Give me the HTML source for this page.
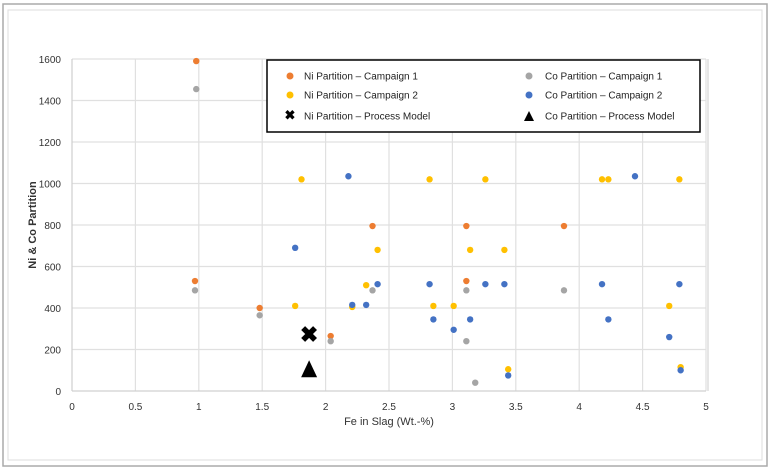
<!DOCTYPE html>
<html><head><meta charset="utf-8"><style>
body{margin:0;background:#fff;}
svg{display:block;font-family:"Liberation Sans",sans-serif;}
</style></head><body>
<svg id="c" width="772" height="472">
<rect x="3" y="4" width="764" height="462" fill="#fff" stroke="#aaa" stroke-width="1.5"/>
<rect x="8" y="10" width="754" height="450" fill="#fff" stroke="#ddd" stroke-width="1"/>
<g id="grid"></g><g id="ticks"></g><g id="marks"></g>
<text x="36" y="225" transform="rotate(-90 36 225)" text-anchor="middle" font-size="11" font-weight="bold" fill="#333">Ni &amp; Co Partition</text>
<text x="389" y="425" text-anchor="middle" font-size="11" fill="#333">Fe in Slag (Wt.-%)</text>
<g>
<rect x="267" y="60" width="433" height="72" fill="#fff" stroke="#000" stroke-width="1.5"/>
<circle cx="290" cy="76" r="3.5" fill="#ed7d31"/><text x="304" y="79.5" font-size="10" fill="#222">Ni Partition – Campaign 1</text>
<circle cx="290" cy="95" r="3.5" fill="#ffc000"/><text x="304" y="98.5" font-size="10" fill="#222">Ni Partition – Campaign 2</text>
<text x="290" y="119.5" font-size="13" font-weight="bold" text-anchor="middle" fill="#000">✖</text><text x="304" y="119.5" font-size="10" fill="#222">Ni Partition – Process Model</text>
<circle cx="529" cy="76" r="3.5" fill="#a5a5a5"/><text x="545" y="79.5" font-size="10" fill="#222">Co Partition – Campaign 1</text>
<circle cx="529" cy="95" r="3.5" fill="#4472c4"/><text x="545" y="98.5" font-size="10" fill="#222">Co Partition – Campaign 2</text>
<polygon points="524,121 529,111 534,121" fill="#000"/><text x="545" y="119.5" font-size="10" fill="#222">Co Partition – Process Model</text>
</g>
</svg>
<script>
const xTicks=[0,0.5,1,1.5,2,2.5,3,3.5,4,4.5,5];
const xTickLabels=["0","0.5","1","1.5","2","2.5","3","3.5","4","4.5","5"];
const yTicks=[0,200,400,600,800,1000,1200,1400,1600];
const niC1X=[0.98,0.97,1.48,2.04,2.37,3.11,3.11,3.88];
const niC1Y=[1590,530,400,265,795,795,530,795];
const coC1X=[0.98,0.97,1.48,2.04,2.37,3.11,3.11,3.18,3.88];
const coC1Y=[1455,485,365,240,485,485,240,40,485];
const niC2X=[1.81,2.82,3.26,4.18,4.23,4.79,2.41,3.14,3.41,2.32,1.76,2.85,3.01,4.71,3.44,4.80,2.21];
const niC2Y=[1020,1020,1020,1020,1020,1020,680,680,680,510,410,410,410,410,105,115,405];
const coC2X=[2.18,4.44,1.76,2.41,2.82,3.26,3.41,4.18,4.79,2.21,2.32,2.85,3.14,4.23,3.01,4.71,3.44,4.80];
const coC2Y=[1035,1035,690,515,515,515,515,515,515,415,415,345,345,345,295,260,75,100];
const niModelX=[1.87], niModelY=[275];
const coModelX=[1.87], coModelY=[105];
const NS="http://www.w3.org/2000/svg";
const X=v=>72+v*(706-72)/5, Y=v=>391-v*(391-59)/1600;
function mk(t,a,p){const e=document.createElementNS(NS,t);for(const k in a)e.setAttribute(k,a[k]);p.appendChild(e);return e;}
const g=document.getElementById('grid'),tk=document.getElementById('ticks'),m=document.getElementById('marks');
xTicks.forEach((v,i)=>{
 const l=mk('line',{x1:X(v),x2:X(v),y1:Y(0),y2:Y(1600),stroke:'#e0e0e0','stroke-width':1.2},g);
 
 const t=mk('text',{x:X(v),y:410,'text-anchor':'middle','font-size':10,fill:'#333'},tk);t.textContent=xTickLabels[i];
 
});
yTicks.forEach(v=>{
 const l=mk('line',{x1:X(0),x2:X(5),y1:Y(v),y2:Y(v),stroke:'#e0e0e0','stroke-width':1.2},g);
 
 const t=mk('text',{x:61,y:Y(v)+4,'text-anchor':'end','font-size':10,fill:'#333'},tk);t.textContent=String(v);
 
});
const ax=mk('line',{x1:X(0),x2:X(5),y1:Y(0),y2:Y(0),stroke:'#ccc'},g);

const ax2=mk('line',{x1:X(0),x2:X(0),y1:Y(0),y2:Y(1600),stroke:'#ccc'},g);

const rx=mk('line',{x1:708,x2:708,y1:Y(1600),y2:Y(0),stroke:'#ccc'},g);

function dots(xs,ys,col,name){xs.forEach((x,i)=>{const c=mk('circle',{cx:X(x),cy:Y(ys[i]),r:3.2,fill:col},m);
 });}
dots(niC1X,niC1Y,'#ed7d31','ni-campaign1-point');
dots(coC1X,coC1Y,'#a5a5a5','co-campaign1-point');
dots(niC2X,niC2Y,'#ffc000','ni-campaign2-point');
dots(coC2X,coC2Y,'#4472c4','co-campaign2-point');
niModelX.forEach((x,i)=>{const t=mk('text',{x:X(x),y:Y(niModelY[i])+8,'text-anchor':'middle','font-size':22,'font-weight':'bold',fill:'#000'},m);t.textContent='✖';
 });
coModelX.forEach((x,i)=>{const cx=X(x),cy=Y(coModelY[i]);const p=mk('polygon',{points:`${cx-8},${cy+8} ${cx},${cy-9} ${cx+8},${cy+8}`,fill:'#000'},m);
 });
</script>
</body></html>
